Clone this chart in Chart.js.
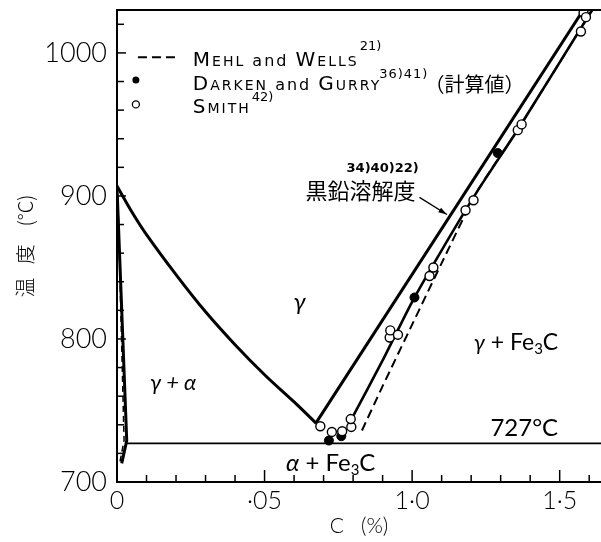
<!DOCTYPE html>
<html>
<head>
<meta charset="utf-8">
<script src="https://cdn.jsdelivr.net/npm/chart.js@4.4.1/dist/chart.umd.min.js"></script>
<style>
html, body { margin: 0; padding: 0; background: #fff; }
</style>
</head>
<body>
<canvas id="chart" width="601" height="542"></canvas>
<script>
// Fe-C diagram near the eutectoid (C in %, T in deg C)

// gamma / gamma+alpha boundary
var a3C = [0, 0.05, 0.10, 0.20, 0.30, 0.40, 0.50, 0.60, 0.675];
var a3T = [907, 889, 873, 845, 819, 796, 775, 756, 741];

// alpha / gamma+alpha boundary (solid) and Mehl & Wells (dashed)
var ferC = [0, 0.033, 0.016];
var ferT = [906, 729, 713];
var ferMwC = [0.003, 0.024, 0.010];
var ferMwT = [900, 729, 714];

// eutectoid line
var eutC = [0.033, 1.64];
var eutT = [727, 727];

// graphite solubility (upper solid line)
var grC = [0.675, 1.58];
var grT = [741.5, 1030];

// cementite solubility (lower solid line)
var cmC = [0.80, 0.90, 1.00, 1.10, 1.22, 1.36, 1.61];
var cmT = [746, 785, 826, 862, 903, 947, 1030];

// Mehl and Wells (dashed)
var mwC = [0.83, 0.90, 1.00, 1.10, 1.22, 1.36, 1.61];
var mwT = [736, 767, 810, 853, 903, 947, 1030];

// Darken and Gurry (filled)
var dgC = [0.718, 0.760, 1.008, 1.29];
var dgT = [729, 732, 829, 930];

// Smith (open)
var smC = [0.689, 0.728, 0.763, 0.794, 0.792, 0.924, 0.926, 0.952, 1.059, 1.072, 1.181, 1.208, 1.358, 1.371, 1.572, 1.581, 1.589];
var smT = [739, 735, 735.5, 738.5, 744, 801, 806, 803, 844, 850, 890, 897, 946, 950, 1015, 1028, 1025];

// tick labels
var xTickVals = [0, 0.5, 1.0, 1.5];
var xTickText = ['0', '·05', '1·0', '1·5'];
var yTickVals = [700, 800, 900, 1000];
var yTickText = ['700', '800', '900', '1000'];

var FONT = 'Lato, "Liberation Sans", sans-serif';
var LEG = '"DejaVu Sans", sans-serif';
var CJK = '"Noto Sans CJK JP", sans-serif';

function pts(xs, ys) {
    return xs.map(function (x, i) { return { x: x, y: ys[i] }; });
}

function isMajor(v, vals) {
    return vals.some(function (m) { return Math.abs(m - v) < 1e-6; });
}

function lineSet(xs, ys, width, dash, tension) {
    return {
        data: pts(xs, ys),
        showLine: true,
        borderColor: '#000',
        borderWidth: width,
        borderDash: dash || [],
        pointRadius: 0,
        tension: tension || 0,
        fill: false
    };
}

// draw a run of text pieces (each with own font and vertical shift) from x on baseline y
function drawParts(ctx, parts, x, y, align, spacing) {
    ctx.letterSpacing = (spacing || 0) + 'px';
    var total = 0;
    parts.forEach(function (p) { ctx.font = p.f; total += ctx.measureText(p.t).width; });
    if (align === 'center') x -= total / 2;
    ctx.textAlign = 'left';
    ctx.textBaseline = 'alphabetic';
    parts.forEach(function (p) {
        ctx.font = p.f;
        ctx.fillText(p.t, x, y + (p.dy || 0));
        x += ctx.measureText(p.t).width;
    });
    ctx.letterSpacing = '0px';
    return x;
}

var decor = {
    id: 'decor',
    afterDraw: function (chart) {
        var ctx = chart.ctx;
        var xs = chart.scales.x, ys = chart.scales.y;
        var area = chart.chartArea;
        function px(c) { return xs.getPixelForValue(c); }
        function py(t) { return ys.getPixelForValue(t); }

        ctx.save();
        ctx.strokeStyle = '#000';
        ctx.fillStyle = '#000';

        // top frame line
        ctx.lineWidth = 2;
        ctx.beginPath();
        ctx.moveTo(area.left, area.top);
        ctx.lineTo(area.right, area.top);
        ctx.stroke();

        // inward ticks
        ctx.lineWidth = 1.5;
        xs.ticks.forEach(function (t) {
            var x = px(t.value);
            var len = isMajor(t.value, xTickVals) ? 12 : 7;
            ctx.beginPath();
            ctx.moveTo(x, area.bottom);
            ctx.lineTo(x, area.bottom - len);
            ctx.stroke();
        });
        ys.ticks.forEach(function (t) {
            var y = py(t.value);
            var len = isMajor(t.value, yTickVals) ? 9 : 7;
            ctx.beginPath();
            ctx.moveTo(area.left, y);
            ctx.lineTo(area.left + len, y);
            ctx.stroke();
        });

        // legend
        ctx.lineWidth = 2;
        ctx.setLineDash([9, 5]);
        ctx.beginPath();
        ctx.moveTo(px(0.071), py(997));
        ctx.lineTo(px(0.200), py(997));
        ctx.stroke();
        ctx.setLineDash([]);

        ctx.beginPath();
        ctx.arc(px(0.064), py(981), 3.5, 0, Math.PI * 2);
        ctx.fill();
        ctx.lineWidth = 1.3;
        ctx.beginPath();
        ctx.arc(px(0.064), py(964), 3.5, 0, Math.PI * 2);
        ctx.stroke();

        var big = '20px ' + LEG, sm = '14px ' + LEG, lw = '16px ' + LEG, sup = '13px ' + LEG;
        var x0 = px(0.257);
        var e = drawParts(ctx, [{ t: 'M', f: big }, { t: 'EHL', f: sm }, { t: ' and ', f: lw }, { t: 'W', f: big }, { t: 'ELLS', f: sm }], x0, py(991), null, 2);
        drawParts(ctx, [{ t: '21)', f: sup, dy: -16 }], e + 1, py(991));
        e = drawParts(ctx, [{ t: 'D', f: big }, { t: 'ARKEN', f: sm }, { t: ' and ', f: lw }, { t: 'G', f: big }, { t: 'URRY', f: sm }], x0, py(974), null, 2);
        e = drawParts(ctx, [{ t: '36)41)', f: sup, dy: -12 }], e - 2, py(974), null, 1);
        drawParts(ctx, [{ t: '（計算値）', f: '20px ' + CJK }], e - 4, py(973));
        e = drawParts(ctx, [{ t: 'S', f: big }, { t: 'MITH', f: sm }], x0, py(958), null, 2);
        drawParts(ctx, [{ t: '42)', f: sup, dy: -12 }], e + 1, py(958));

        // phase labels
        var lab = '24px ' + FONT, it = 'italic 24px ' + FONT, sub = '15px ' + FONT;
        drawParts(ctx, [{ t: 'γ', f: it }], px(0.619), py(820), 'center');
        drawParts(ctx, [{ t: 'γ + α', f: 'italic 22px ' + FONT }], px(0.19), py(764), 'center');
        drawParts(ctx, [{ t: 'γ', f: 'italic 22px ' + FONT }, { t: ' + Fe', f: '23px ' + FONT }, { t: '3', f: sub, dy: 4 }, { t: 'C', f: '23px ' + FONT }], px(1.352), py(792), 'center');
        drawParts(ctx, [{ t: '727°C', f: lab }], px(1.38), py(732), 'center');
        drawParts(ctx, [{ t: 'α', f: it }, { t: ' + Fe', f: lab }, { t: '3', f: sub, dy: 4 }, { t: 'C', f: lab }], px(0.724), py(708), 'center');

        // graphite solubility note and arrow
        drawParts(ctx, [{ t: '黒鉛溶解度', f: '22px ' + CJK }], px(0.825), py(898), 'center');
        drawParts(ctx, [{ t: '34)40)22)', f: 'bold 13px ' + LEG }], px(0.90), py(917), 'center');
        var ax = px(1.025), ay = py(899), bx = px(1.118), by = py(887);
        ctx.lineWidth = 1.3;
        ctx.beginPath();
        ctx.moveTo(ax, ay);
        ctx.lineTo(bx, by);
        ctx.stroke();
        var ang = Math.atan2(by - ay, bx - ax);
        ctx.beginPath();
        ctx.moveTo(bx, by);
        ctx.lineTo(bx - 9 * Math.cos(ang - 0.3), by - 9 * Math.sin(ang - 0.3));
        ctx.lineTo(bx - 9 * Math.cos(ang + 0.3), by - 9 * Math.sin(ang + 0.3));
        ctx.closePath();
        ctx.fill();

        ctx.restore();
    }
};

var config = {
    type: 'scatter',
    data: {
        datasets: [
            {
                data: pts(smC, smT),
                pointStyle: 'circle',
                pointRadius: 4.5,
                borderWidth: 1.4,
                borderColor: '#000',
                backgroundColor: '#fff'
            },
            {
                data: pts(dgC, dgT),
                pointStyle: 'circle',
                pointRadius: 4.5,
                borderWidth: 1,
                borderColor: '#000',
                backgroundColor: '#000'
            },
            lineSet(a3C, a3T, 3, null, 0.4),
            lineSet(ferC, ferT, 3),
            lineSet(ferMwC, ferMwT, 1.5, [6, 4]),
            lineSet(eutC, eutT, 1.6),
            lineSet(grC, grT, 3),
            lineSet(cmC, cmT, 2.6, null, 0.2),
            lineSet(mwC, mwT, 2, [9, 5], 0.2)
        ]
    },
    options: {
        responsive: false,
        animation: false,
        devicePixelRatio: 1,
        layout: { autoPadding: false, padding: { top: 10, right: 0, left: 0, bottom: 0 } },
        plugins: { legend: { display: false }, tooltip: { enabled: false } },
        scales: {
            x: {
                type: 'linear',
                min: 0,
                max: 1.64,
                grid: { display: false, drawTicks: false },
                border: { display: true, color: '#000', width: 2 },
                ticks: {
                    stepSize: 0.1,
                    includeBounds: false,
                    autoSkip: false,
                    maxRotation: 0,
                    padding: 4,
                    color: '#000',
                    font: { family: FONT, size: 25, weight: 300 },
                    callback: function (v) {
                        for (var i = 0; i < xTickVals.length; i++) {
                            if (Math.abs(xTickVals[i] - v) < 1e-6) return xTickText[i];
                        }
                        return '';
                    }
                },
                title: {
                    display: true,
                    text: 'C   (%)',
                    color: '#000',
                    font: { family: FONT, size: 21, weight: 300 },
                    padding: { top: 0, bottom: 3 }
                },
                afterFit: function (s) {
                    s.height = 60;
                    s.paddingLeft = 0;
                    s.paddingRight = 0;
                }
            },
            y: {
                type: 'linear',
                min: 700,
                max: 1030,
                grid: { display: false, drawTicks: false },
                border: { display: true, color: '#000', width: 2 },
                ticks: {
                    stepSize: 20,
                    includeBounds: false,
                    autoSkip: false,
                    padding: 10,
                    color: '#000',
                    font: { family: FONT, size: 27, weight: 300 },
                    callback: function (v) {
                        for (var i = 0; i < yTickVals.length; i++) {
                            if (Math.abs(yTickVals[i] - v) < 1e-6) return yTickText[i];
                        }
                        return '';
                    }
                },
                title: {
                    display: true,
                    text: '温   度    (°C)',
                    color: '#000',
                    font: { family: CJK, size: 20, weight: 300 },
                    padding: { top: 13, bottom: 0 }
                },
                afterFit: function (s) {
                    s.width = 117;
                    s.paddingTop = 0;
                    s.paddingBottom = 0;
                }
            }
        }
    },
    plugins: [decor]
};

window.onload = function () {
    var ctx = document.getElementById('chart').getContext('2d');
    window.myChart = new Chart(ctx, config);
};
</script>
</body>
</html>
